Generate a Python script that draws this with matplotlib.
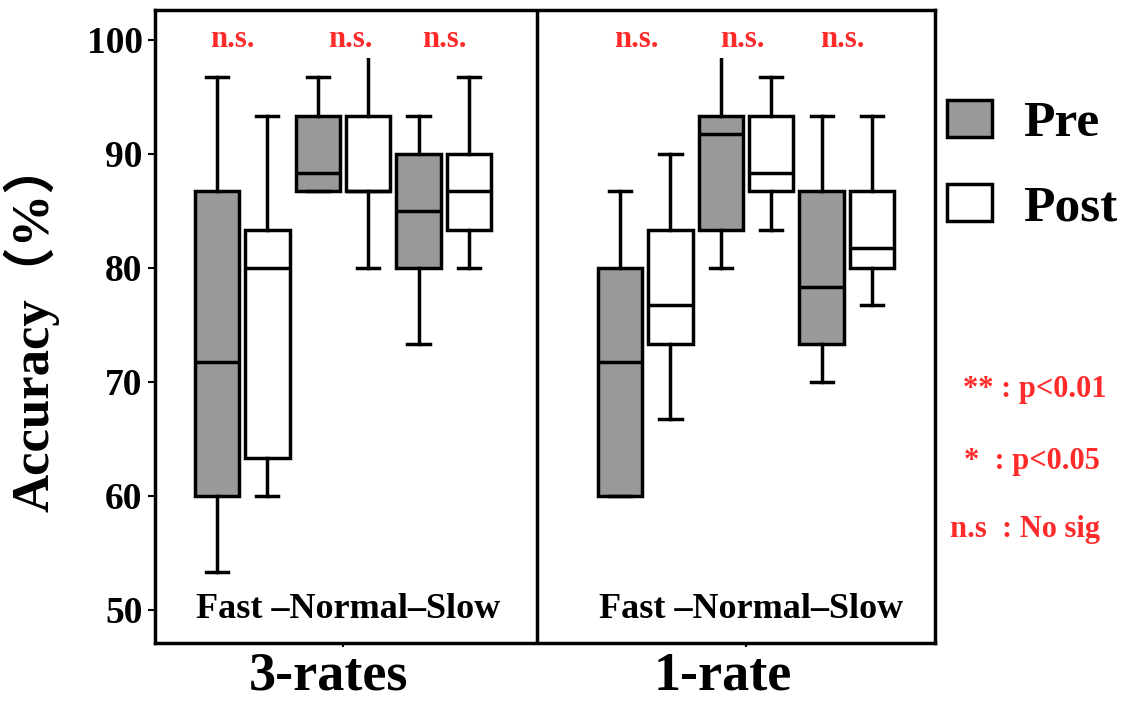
import matplotlib
matplotlib.use("Agg")
import matplotlib.pyplot as plt
from matplotlib.patches import Patch
from matplotlib.transforms import ScaledTranslation, blended_transform_factory

# ---------------- data ----------------
groups = ["3-rates", "1-rate"]
conditions = ["Fast", "Normal", "Slow"]
phases = ["Pre", "Post"]

# order: group -> condition -> phase (Pre, Post)
whislo = [53.3, 60.0, 86.7, 80.0, 73.3, 80.0, 60.0, 66.7, 80.0, 83.3, 70.0, 76.7]
q1     = [60.0, 63.3, 86.7, 86.7, 80.0, 83.3, 60.0, 73.3, 83.3, 86.7, 73.3, 80.0]
med    = [71.7, 80.0, 88.3, 86.7, 85.0, 86.7, 71.7, 76.7, 91.7, 88.3, 78.3, 81.7]
q3     = [86.7, 83.3, 93.3, 93.3, 90.0, 90.0, 80.0, 83.3, 93.3, 93.3, 86.7, 86.7]
whishi = [96.7, 93.3, 96.7, 100.0, 93.3, 96.7, 86.7, 90.0, 100.0, 96.7, 93.3, 93.3]

sig_labels = ["n.s.", "n.s.", "n.s.", "n.s.", "n.s.", "n.s."]
yticks = [50, 60, 70, 80, 90, 100]
group_text = "Fast \u2013Normal\u2013Slow"
key_lines = ["** : p<0.01", "*  : p<0.05", "n.s  : No sig"]

# ---------------- layout ----------------
W, H = 1122, 701
fig = plt.figure(figsize=(W / 100, H / 100), dpi=100)
ax = fig.add_axes([155 / W, 1 - 643 / H, (935 - 155) / W, (643 - 10) / H])

serif = ["Liberation Serif", "DejaVu Serif"]
red = "#ff2a2a"
lw = 2.5

stats, positions, faces = [], [], []
i = 0
for g in range(len(groups)):
    for c in range(len(conditions)):
        for p in range(len(phases)):
            stats.append(dict(whislo=whislo[i], q1=q1[i], med=med[i],
                              q3=q3[i], whishi=whishi[i], fliers=[]))
            positions.append(g * 8 + c * 2 + p)
            faces.append("#999999" if p == 0 else "white")
            i += 1

bp = ax.bxp(stats, positions=positions, widths=0.88, patch_artist=True,
            showfliers=False,
            boxprops=dict(linewidth=lw, edgecolor="black"),
            medianprops=dict(color="black", linewidth=lw),
            whiskerprops=dict(color="black", linewidth=lw),
            capprops=dict(color="black", linewidth=lw),
            manage_ticks=False)
for patch, fc in zip(bp["boxes"], faces):
    patch.set_facecolor(fc)
# caps of whiskers reaching the label row are hidden behind the labels
for j, s in enumerate(stats):
    if s["whishi"] >= 100:
        bp["caps"][2 * j + 1].set_visible(False)

ax.set_xlim(-1.23, 14.25)
ax.set_ylim(47.1, 102.6)
ax.axvline(6.35, color="black", linewidth=lw)

# significance labels (above each pair)
ns_offsets = [-0.2, 0.14, 0.02, -0.17, -0.07, -0.08]
k = 0
for g in range(len(groups)):
    for c in range(len(conditions)):
        xc = g * 8 + c * 2 + 0.5 + ns_offsets[k]
        ax.text(xc, 100, sig_labels[k], ha="center", va="center",
                color=red, fontsize=22, fontweight="bold", family=serif,
                bbox=dict(facecolor="white", edgecolor="none", pad=3),
                zorder=5)
        k += 1

# group condition text
for g in range(len(groups)):
    ax.text(g * 8 + 2.6, 50.0, group_text, ha="center", va="center",
            fontsize=26, fontweight="bold", family=serif)

ax.set_yticks(yticks)
ax.set_yticklabels([str(v) for v in yticks], fontsize=27, fontweight="bold",
                   family=serif)
ax.set_xticks([g * 8 + 2.5 for g in range(len(groups))])
ax.set_xticklabels([])
ax.tick_params(axis="y", length=5, width=1.5, pad=4)
ax.tick_params(axis="x", length=3, width=1.5)
for s in ax.spines.values():
    s.set_linewidth(lw)

# group labels under the axis (slightly left of the tick marks, as drawn)
trans = blended_transform_factory(ax.transData, ax.transAxes)
for g, dx in zip(range(len(groups)), [-14, -23]):
    ax.text(g * 8 + 2.5, 0, groups[g], ha="center", va="top",
            fontsize=39, fontweight="bold", family=serif,
            transform=trans + ScaledTranslation(dx / 100, -8 / 100,
                                                fig.dpi_scale_trans))

ax.set_ylabel("Accuracy\uff08%\uff09", fontsize=38, fontweight="bold",
              family=["Liberation Serif", "Noto Sans CJK SC", "DejaVu Serif"])
ax.yaxis.set_label_coords((60 - 155) / 780, 0.5)

# legend
handles = [Patch(facecolor="#999999", edgecolor="black", linewidth=lw),
           Patch(facecolor="white", edgecolor="black", linewidth=lw)]
fig.legend(handles, phases, loc="upper left",
           bbox_to_anchor=(947 / W, 1 - 100 / H), frameon=False,
           prop=dict(family=serif, weight="bold", size=37),
           handlelength=0.88, handleheight=0.72, handletextpad=0.6,
           labelspacing=0.72, borderpad=0, borderaxespad=0)

# significance key
key_pos = [(1035, 390), (1032, 462), (1025, 530)]
for t, (x, y) in zip(key_lines, key_pos):
    fig.text(x / W, 1 - y / H, t, ha="center", va="center", color=red,
             fontsize=22, fontweight="bold", family=serif)

fig.savefig("out.png", dpi=100)
